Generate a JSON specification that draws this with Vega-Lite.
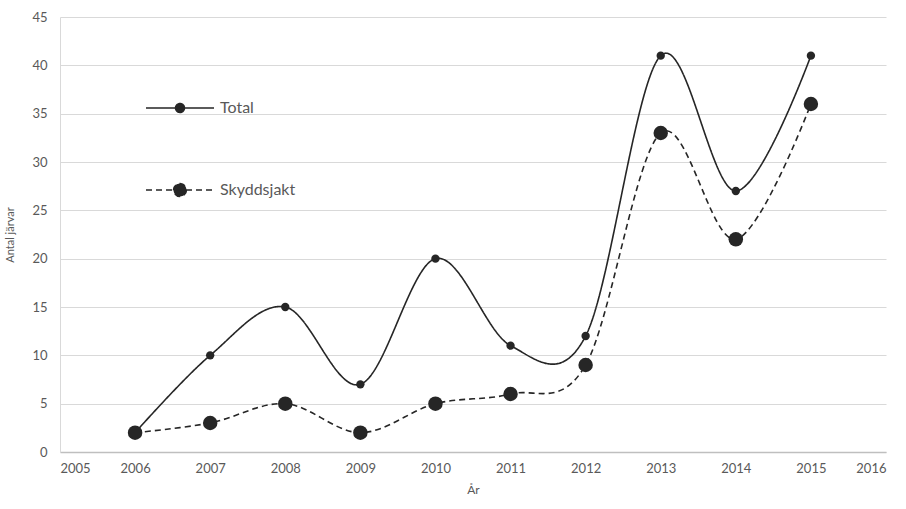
{
  "$schema": "https://vega.github.io/schema/vega-lite/v6.json",
  "width": 826,
  "height": 435,
  "autosize": {"type": "none"},
  "padding": {"left": 60, "top": 17, "right": 20, "bottom": 57},
  "background": "white",
  "config": {
    "font": "Lato",
    "view": {"stroke": null},
    "axis": {
      "labelFont": "Lato",
      "titleFont": "Lato",
      "labelColor": "#595959",
      "titleColor": "#595959",
      "labelFontSize": 13,
      "titleFontSize": 12,
      "titleFontWeight": "normal",
      "ticks": false,
      "gridColor": "#d9d9d9",
      "gridWidth": 1
    },
    "legend": {"labelFont": "Lato"}
  },
  "data": {
    "values": [
      {"year": 2006, "series": "Total", "value": 2},
      {"year": 2007, "series": "Total", "value": 10},
      {"year": 2008, "series": "Total", "value": 15},
      {"year": 2009, "series": "Total", "value": 7},
      {"year": 2010, "series": "Total", "value": 20},
      {"year": 2011, "series": "Total", "value": 11},
      {"year": 2012, "series": "Total", "value": 12},
      {"year": 2013, "series": "Total", "value": 41},
      {"year": 2014, "series": "Total", "value": 27},
      {"year": 2015, "series": "Total", "value": 41},
      {"year": 2006, "series": "Skyddsjakt", "value": 2},
      {"year": 2007, "series": "Skyddsjakt", "value": 3},
      {"year": 2008, "series": "Skyddsjakt", "value": 5},
      {"year": 2009, "series": "Skyddsjakt", "value": 2},
      {"year": 2010, "series": "Skyddsjakt", "value": 5},
      {"year": 2011, "series": "Skyddsjakt", "value": 6},
      {"year": 2012, "series": "Skyddsjakt", "value": 9},
      {"year": 2013, "series": "Skyddsjakt", "value": 33},
      {"year": 2014, "series": "Skyddsjakt", "value": 22},
      {"year": 2015, "series": "Skyddsjakt", "value": 36}
    ]
  },
  "encoding": {
    "x": {
      "field": "year",
      "type": "quantitative",
      "scale": {"domain": [2005, 2016], "nice": false, "zero": false},
      "axis": {
        "title": "År",
        "format": "d",
        "values": [2005, 2006, 2007, 2008, 2009, 2010, 2011, 2012, 2013, 2014, 2015, 2016],
        "grid": false,
        "domainColor": "#bfbfbf",
        "domainWidth": 1.5,
        "labelPadding": 10,
        "titlePadding": 9
      }
    },
    "y": {
      "field": "value",
      "type": "quantitative",
      "scale": {"domain": [0, 45], "nice": false},
      "axis": {
        "title": "Antal järvar",
        "values": [0, 5, 10, 15, 20, 25, 30, 35, 40, 45],
        "domainColor": "#d9d9d9",
        "labelPadding": 13,
        "titlePadding": 16,
        "titleFontSize": 11
      }
    }
  },
  "layer": [
    {
      "mark": {"type": "line", "interpolate": "cardinal", "color": "#262626", "strokeWidth": 1.6},
      "encoding": {
        "detail": {"field": "series"},
        "strokeDash": {
          "field": "series",
          "type": "nominal",
          "scale": {"domain": ["Total", "Skyddsjakt"], "range": [[1, 0], [6, 4]]},
          "legend": {
            "title": null,
            "orient": "none",
            "legendX": 112,
            "legendY": 83,
            "padding": 0,
            "symbolType": "M-6.8,0H6.8M0.9,0A0.9,0.9 0 1 1 -0.9,0A0.9,0.9 0 1 1 0.9,0",
            "symbolSize": 100,
            "symbolStrokeWidth": 1.5,
            "symbolStrokeColor": "#262626",
            "symbolFillColor": "#262626",
            "labelFontSize": 16,
            "labelColor": "#595959",
            "labelOffset": 32,
            "rowPadding": 64,
            "encode": {
              "symbols": {
                "update": {
                  "shape": {"signal": "datum.value === 'Total' ? 'M-6.8,0H6.8M0.9,0A0.9,0.9 0 1 1 -0.9,0A0.9,0.9 0 1 1 0.9,0' : 'M-6.8,0H6.8M1.3,0A1.3,1.3 0 1 1 -1.3,0A1.3,1.3 0 1 1 1.3,0'"},
                  "strokeDash": {"signal": "datum.value === 'Total' ? [1, 0] : [6, 4]"},
                  "fill": {"value": "#262626"},
                  "stroke": {"value": "#262626"},
                  "opacity": {"value": 1}
                }
              }
            }
          }
        }
      }
    },
    {
      "transform": [{"filter": "datum.series === 'Total'"}],
      "mark": {"type": "point", "filled": true, "shape": "circle", "color": "#262626", "opacity": 1, "size": 70}
    },
    {
      "transform": [{"filter": "datum.series === 'Skyddsjakt'"}],
      "mark": {"type": "point", "filled": true, "shape": "circle", "color": "#262626", "opacity": 1, "size": 210}
    }
  ]
}
